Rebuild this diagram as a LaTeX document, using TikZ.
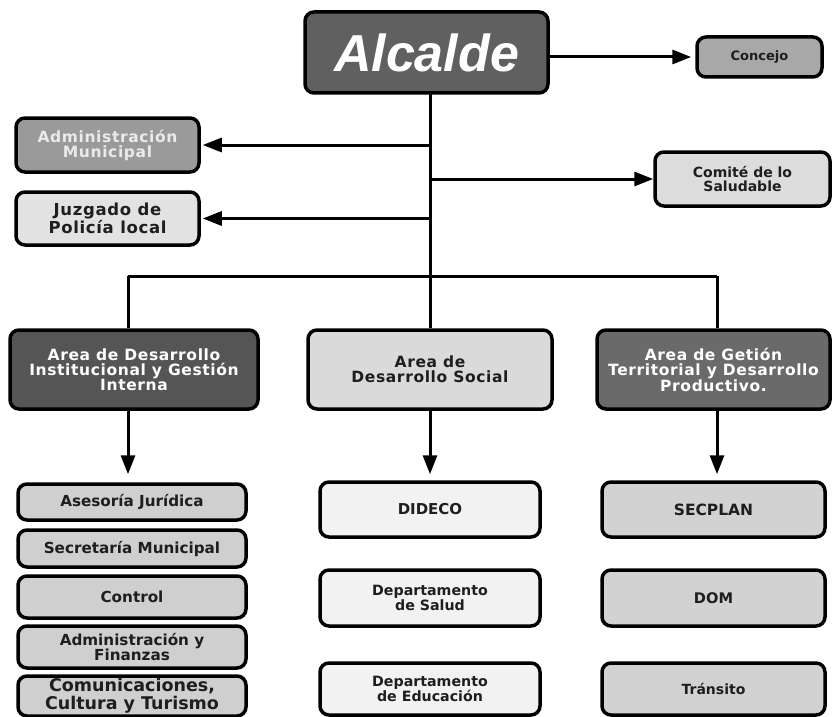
\documentclass[tikz,border=0pt]{standalone}
\usepackage{fontspec}
\setmainfont{DejaVu Sans}
\newfontfamily\alcfont{Liberation Sans}
\newfontfamily\widefont[LetterSpace=4]{DejaVu Sans}
\usetikzlibrary{arrows.meta}
\definecolor{cAlc}{HTML}{606060}
\definecolor{cCon}{HTML}{A8A8A8}
\definecolor{cAdm}{HTML}{9A9A9A}
\definecolor{cCom}{HTML}{DCDCDC}
\definecolor{cJuz}{HTML}{E2E2E2}
\definecolor{cAone}{HTML}{555555}
\definecolor{cAtwo}{HTML}{DADADA}
\definecolor{cAthree}{HTML}{6A6A6A}
\definecolor{cLeft}{HTML}{CFCFCF}
\definecolor{cMid}{HTML}{F2F2F2}
\definecolor{cRight}{HTML}{D2D2D2}
\definecolor{cTxt}{HTML}{1E1E1E}
\definecolor{cAdmTxt}{HTML}{EAEAEA}
\tikzset{
  box/.style={draw=black, line width=3.5pt, rounded corners=9pt, align=center,
    inner sep=0pt, text=cTxt, font=\bfseries\fontsize{15.2}{15.5}\selectfont},
  areabox/.style={box, font=\widefont\bfseries\fontsize{15.5}{15}\selectfont},
  midbox/.style={box, fill=cMid, minimum width=220, font=\bfseries\fontsize{14.2}{15}\selectfont},
  rightbox/.style={box, fill=cRight, minimum width=223},
  leftbox/.style={box, fill=cLeft, minimum width=228},
  conn/.style={line width=3pt},
  arr/.style={line width=3pt, -{Triangle[length=19pt,width=14pt]}},
}
\begin{document}
\begin{tikzpicture}[x=1pt,y=-1pt]
\useasboundingbox (0,0) rectangle (833,717);
% top level
\node[box, fill=cAlc, minimum width=243, minimum height=81, text=white,
  font=\alcfont\bfseries\itshape\fontsize{52}{52}\selectfont] (alc) at (426.5,52.5) {Alcalde};
\node[box, fill=cCon, minimum width=125, minimum height=40,
  font=\bfseries\fontsize{13}{13}\selectfont] (con) at (759.5,57) {Concejo};
\node[areabox, fill=cAdm, minimum width=183, minimum height=54, text=cAdmTxt] (adm) at (107.5,145) {Administración\\Municipal};
\node[box, fill=cCom, minimum width=175, minimum height=54,
  font=\bfseries\fontsize{14}{14.5}\selectfont] (com) at (742.5,179) {Comité de lo\\Saludable};
\node[box, fill=cJuz, minimum width=183, minimum height=53,
  font=\widefont\bfseries\fontsize{16.5}{17.5}\selectfont] (juz) at (107.5,218.5) {Juzgado de\\Policía local};
% areas
\node[areabox, fill=cAone, minimum width=248, minimum height=79, text=white] (a1) at (134,369.5) {Area de Desarrollo\\Institucional y Gestión\\Interna};
\node[areabox, fill=cAtwo, minimum width=244, minimum height=79] (a2) at (430,369.5) {Area de\\Desarrollo Social};
\node[areabox, fill=cAthree, minimum width=233, minimum height=79, text=white] (a3) at (713.5,369.5) {Area de Getión\\Territorial y Desarrollo\\Productivo.};
% left column
\node[leftbox, minimum height=36] (aj) at (132,502) {Asesoría Jurídica};
\node[leftbox, minimum height=37] (sm) at (132,548.5) {Secretaría Municipal};
\node[leftbox, minimum height=42] (ctl) at (132,597) {Control};
\node[leftbox, minimum height=42] (af) at (132,647) {Administración y\\Finanzas};
\node[leftbox, minimum height=40,
  font=\bfseries\fontsize{17.5}{18}\selectfont] (cct) at (132,696) {Comunicaciones,\\Cultura y Turismo};
% middle column
\node[midbox, minimum height=55, font=\bfseries\fontsize{15}{15}\selectfont] (did) at (430,509.5) {DIDECO};
\node[midbox, minimum height=56] (sal) at (430,598) {Departamento\\de Salud};
\node[midbox, minimum height=52] (edu) at (430,689) {Departamento\\de Educación};
% right column
\node[rightbox, minimum height=55, font=\bfseries\fontsize{15.5}{15.5}\selectfont] (sec) at (713.5,509.5) {SECPLAN};
\node[rightbox, minimum height=56, font=\bfseries\fontsize{14.6}{15}\selectfont] (dom) at (713.5,598) {DOM};
\node[rightbox, minimum height=52, font=\bfseries\fontsize{14}{15}\selectfont] (tra) at (713.5,689) {Tránsito};
% connectors
\coordinate (t0) at (430,93);
\coordinate (bus) at (430,276);
\coordinate (b1) at (128,276);
\coordinate (b3) at (717,276);
\draw[arr, shorten >=4pt] (alc.east |- con.west) -- (con.west);
\draw[conn] (t0) -- (bus);
\draw[conn] (b1) -- (b3);
\draw[arr, shorten >=2pt] (t0 |- adm.east) -- (adm.east);
\draw[arr] (t0 |- com.west) -- (com.west);
\draw[arr, shorten >=2pt] (t0 |- juz.east) -- (juz.east);
\draw[conn] (b1) -- (b1 |- a1.north);
\draw[conn] (bus) -- (bus |- a2.north);
\draw[conn] (b3) -- (b3 |- a3.north);
\draw[arr, shorten >=8pt] (b1 |- a1.south) -- (b1 |- aj.north);
\draw[arr, shorten >=6pt] (bus |- a2.south) -- (bus |- did.north);
\draw[arr, shorten >=6pt] (b3 |- a3.south) -- (b3 |- sec.north);
\end{tikzpicture}
\end{document}
